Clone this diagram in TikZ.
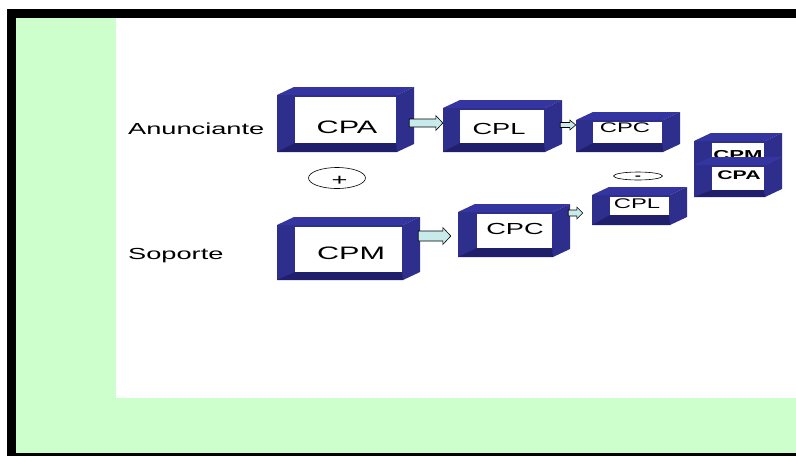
\documentclass[tikz,border=0pt]{standalone}
\usepackage{fontspec}
\setmainfont{Liberation Sans}
\newfontfamily\widesans[FakeStretch=1.7]{Liberation Sans}
\usetikzlibrary{calc,shapes.geometric}
\definecolor{slidegreen}{HTML}{CCFFCC}
\definecolor{navyface}{HTML}{2E2E8C}
\definecolor{navytop}{HTML}{3535A2}
\definecolor{navyfloor}{HTML}{1F1F6C}
\definecolor{arrowcyan}{HTML}{C8EAEA}
\tikzset{
  boxface/.style={fill=navyface},
  boxtop/.style={fill=navytop},
  boxfloor/.style={fill=navyfloor},
  boxframe/.style={inner sep=0pt},
  boxlabel/.style={inner sep=0pt},
  barrow/.style={fill=arrowcyan, draw=black, line width=0.6pt},
  sign/.style={draw, ellipse, line width=0.6pt, inner sep=0pt},
}
\def\bdx{17}\def\bdy{8}
% open box: name, left, top, right, bottom, wall, floor
\newcommand{\openbox}[7]{%
  \fill[boxtop] (#2,#3) -- (#2+\bdx,#3-\bdy) -- (#4+\bdx,#3-\bdy) -- (#4,#3) -- cycle;
  \fill[boxface] (#4,#3) -- (#4+\bdx,#3-\bdy) -- (#4+\bdx,#5-\bdy) -- (#4,#5) -- cycle;
  \fill[boxface] (#2,#3) rectangle (#4,#5);
  \fill[white] (#2+#6,#3+2) rectangle (#4-1,#5-#7);
  \fill[boxfloor] (#2,#5) -- (#2+#6,#5-#7) -- (#4-1,#5-#7) -- (#4,#5) -- cycle;
  \node[boxframe, minimum width={#4pt-#2pt}, minimum height={#5pt-#3pt}] (#1) at ({(#2+#4)/2},{(#3+#5)/2}) {};
}
% block arrow: from, to, y, start offset, end gap, shaft, head, head length
\newcommand{\blockarrow}[8]{%
  \draw[barrow] let \p1=(#1.east), \p2=(#2.west), \n1={\x1+#4}, \n2={\x2-#5}, \n3={\n2-#8} in
    (\n1,#3-#6) -- (\n3,#3-#6) -- (\n3,#3-#7) -- (\n2,#3) -- (\n3,#3+#7) -- (\n3,#3+#6) -- (\n1,#3+#6) -- cycle;
}
\begin{document}
\begin{tikzpicture}[x=1pt, y=-1pt]
  \useasboundingbox (0,0) rectangle (796,456);
  \fill[white] (0,0) rectangle (796,456);
  \fill[slidegreen] (16,18) rectangle (116,453);
  \fill[slidegreen] (116,398) rectangle (796,453);
  \fill[black] (7,9) rectangle (796,18);
  \fill[black] (7,9) rectangle (16,456);
  \fill[black] (16,453) rectangle (796,456);

  \openbox{cpa}{277}{95}{397}{152}{18}{9}
  \openbox{cplsup}{443}{108}{545}{152}{17}{9}
  \openbox{cpcsup}{576}{120}{663}{152}{17}{9}
  \openbox{cpm}{277}{225}{403}{280}{18}{8}
  \openbox{cpcinf}{458}{212}{553}{257}{19}{9}
  \openbox{cplinf}{592}{195}{670}{225}{18}{10}

  \node[boxlabel, font=\widesans\fontsize{18}{18}\selectfont] (cpa-txt) at (347,127) {CPA};
  \node[boxlabel, font=\widesans\fontsize{16}{16}\selectfont] (cplsup-txt) at (499,129) {CPL};
  \node[boxlabel, font=\widesans\fontsize{14}{14}\selectfont] (cpcsup-txt) at (625,128) {CPC};
  \node[boxlabel, font=\widesans\fontsize{18}{18}\selectfont] (cpm-txt) at (351,253) {CPM};
  \node[boxlabel, font=\widesans\fontsize{16}{16}\selectfont] (cpcinf-txt) at (515,229) {CPC};
  \node[boxlabel, font=\widesans\fontsize{14}{14}\selectfont] (cplinf-txt) at (637,204) {CPL};

  \openbox{cpmder}{694}{141}{765}{165}{18}{5}
  \node[boxlabel, font=\widesans\bfseries\fontsize{13}{13}\selectfont] (cpmder-txt) at (738,155) {CPM};
  \openbox{cpader}{694}{165}{765}{197}{18}{7}
  \node[boxlabel, font=\widesans\bfseries\fontsize{12.5}{12.5}\selectfont] (cpader-txt) at (739,175) {CPA};

  \blockarrow{cpa}{cplsup}{123}{12}{0}{4}{7.5}{7}
  \blockarrow{cplsup}{cpcsup}{125}{15}{0}{2.5}{5}{6}
  \blockarrow{cpm}{cpcinf}{236}{15}{7}{5}{8.5}{8}
  \blockarrow{cpcinf}{cplinf}{213}{15}{9}{3}{6}{6}

  \node[sign, minimum width=57pt, minimum height=21pt] (plus) at (337,178) {};
  \node[boxlabel, anchor=base, font=\widesans\fontsize{16}{16}\selectfont] (plus-txt) at (339.5,185) {+};
  \node[sign, minimum width=49pt, minimum height=8pt] (minus) at (638,176) {};
  \node[boxlabel, anchor=base, font=\widesans\bfseries\fontsize{11}{11}\selectfont] (minus-txt) at (638,179) {-};

  \node[boxlabel, anchor=base west, font=\widesans\fontsize{16}{16}\selectfont] (anun) at (128,134) {Anunciante};
  \node[boxlabel, anchor=base west, font=\widesans\fontsize{16}{16}\selectfont] (sop) at (128,259) {Soporte};
\end{tikzpicture}
\end{document}
